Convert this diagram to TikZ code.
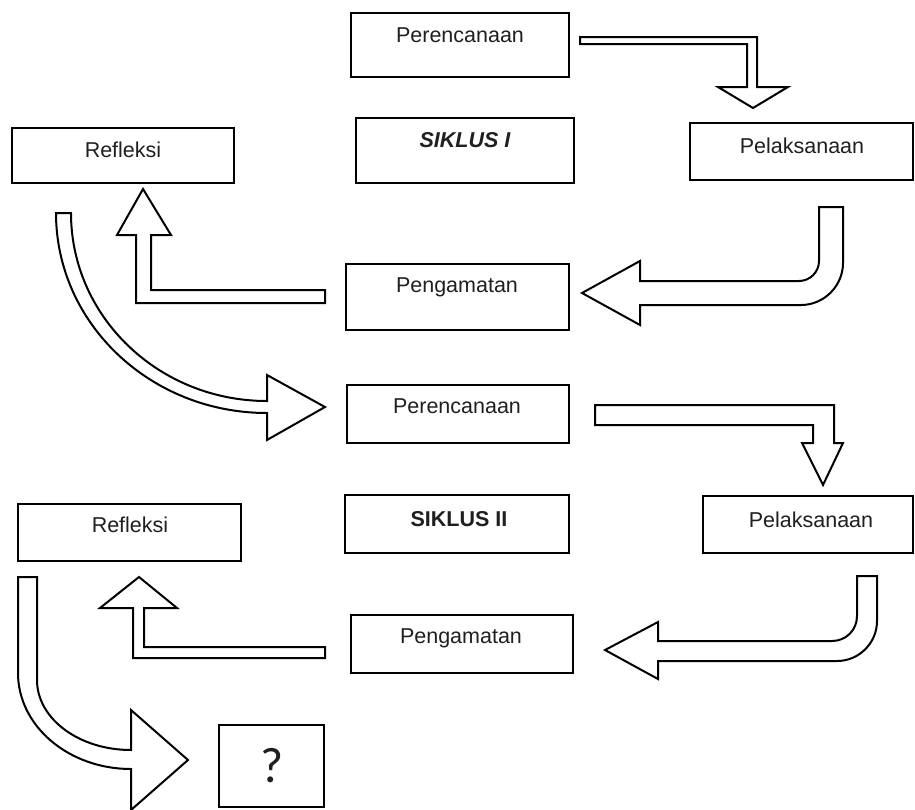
\documentclass[tikz,border=0pt]{standalone}
\usepackage{fontspec}
\setmainfont{Liberation Sans}
\newfontfamily\qfont{Carlito}
\begin{document}
\begin{tikzpicture}[x=1pt,y=-1pt,
  boxst/.style={draw, line width=2.6pt, inner sep=0pt, outer sep=0pt},
  lbl/.style={font=\fontsize{21.5}{24}\selectfont, anchor=base, inner sep=0pt, text=black!88},
  barrow/.style={draw, fill=white, line width=2pt, line join=miter}]
\useasboundingbox (0,0) rectangle (915,809);

% boxes
\node[boxst, minimum width=218, minimum height=64] (plan1) at (460,45) {};
\node[boxst, minimum width=218, minimum height=65] (sik1) at (465,150.5) {};
\node[boxst, minimum width=223, minimum height=57] (pel1) at (801.5,151.5) {};
\node[boxst, minimum width=222, minimum height=55] (ref1) at (123,155.5) {};
\node[boxst, minimum width=223, minimum height=66] (pen1) at (457.5,297) {};
\node[boxst, minimum width=222, minimum height=58] (plan2) at (458,414) {};
\node[boxst, minimum width=224, minimum height=58] (sik2) at (457,524) {};
\node[boxst, minimum width=210, minimum height=57] (pel2) at (808,524.5) {};
\node[boxst, minimum width=223, minimum height=57] (ref2) at (129.5,532.5) {};
\node[boxst, minimum width=222, minimum height=58] (pen2) at (462,644) {};
\node[boxst, minimum width=105, minimum height=82] (qbox) at (271.5,766) {};

% labels
\node[lbl] (plan1t) at (460,42) {Perencanaan};
\node[lbl] (sik1t) at (465,147) {\bfseries\itshape SIKLUS I};
\node[lbl] (pel1t) at (802,153) {Pelaksanaan};
\node[lbl] (ref1t) at (123,157) {Refleksi};
\node[lbl] (pen1t) at (457,292) {Pengamatan};
\node[lbl] (plan2t) at (457,413) {Perencanaan};
\node[lbl] (sik2t) at (459,526) {\bfseries SIKLUS II};
\node[lbl] (pel2t) at (811,527) {Pelaksanaan};
\node[lbl] (ref2t) at (130,532) {Refleksi};
\node[lbl] (pen2t) at (461,643) {Pengamatan};
\node[lbl, font=\qfont\fontsize{50}{54}\selectfont] (qt) at (272,782) {?};

% block arrows
% plan1 -> pel1
\draw[barrow] (580,37) -- (757,37) -- (757,87) -- (788,87) -- (753,108) -- (718,87)
  -- (747,87) -- (747,44) -- (580,44) -- cycle;
% pel1 -> pen1
\draw[barrow] (819,207) -- (843,207) -- (843,263) .. controls (843,286) and (824,305) .. (801,305)
  -- (640,305) -- (640,325) -- (582,293) -- (640,261) -- (640,281) -- (799,281)
  .. controls (810,281) and (819,272) .. (819,261) -- cycle;
% pen1 -> ref1
\draw[barrow] (325,290) -- (151,290) -- (151,235) -- (171,235) -- (143,189) -- (117,235)
  -- (136,235) -- (136,303) -- (325,303) -- cycle;
% ref1 -> plan2
\draw[barrow] (56,213) .. controls (56,323.5) and (150.5,413) .. (267,413)
  -- (267,440) -- (325,407) -- (267,375) -- (267,401)
  .. controls (158.7,401) and (71,316.8) .. (71,213) -- cycle;
% plan2 -> pel2
\draw[barrow] (595,405) -- (834,405) -- (834,443) -- (843,443) -- (823,485) -- (802,443)
  -- (813,443) -- (813,425) -- (595,425) -- cycle;
% pel2 -> pen2
\draw[barrow] (857,576) -- (877,576) -- (877,621) .. controls (877,643) and (859,661) .. (837,661)
  -- (658,661) -- (658,679) -- (605,650) -- (658,622) -- (658,641) -- (832,641)
  .. controls (846,641) and (857,630) .. (857,616) -- cycle;
% pen2 -> ref2
\draw[barrow] (325,647) -- (144,647) -- (144,608) -- (177,608) -- (139,577) -- (100,608)
  -- (133,608) -- (133,658) -- (325,658) -- cycle;
% ref2 -> ?
\draw[barrow] (18,577) -- (37,577) -- (37,680) .. controls (37,718.7) and (79,750) .. (131,750)
  -- (131,710) -- (188,760) -- (131,810) -- (131,769)
  .. controls (68.6,769) and (18,726) .. (18,673) -- cycle;
\end{tikzpicture}
\end{document}
